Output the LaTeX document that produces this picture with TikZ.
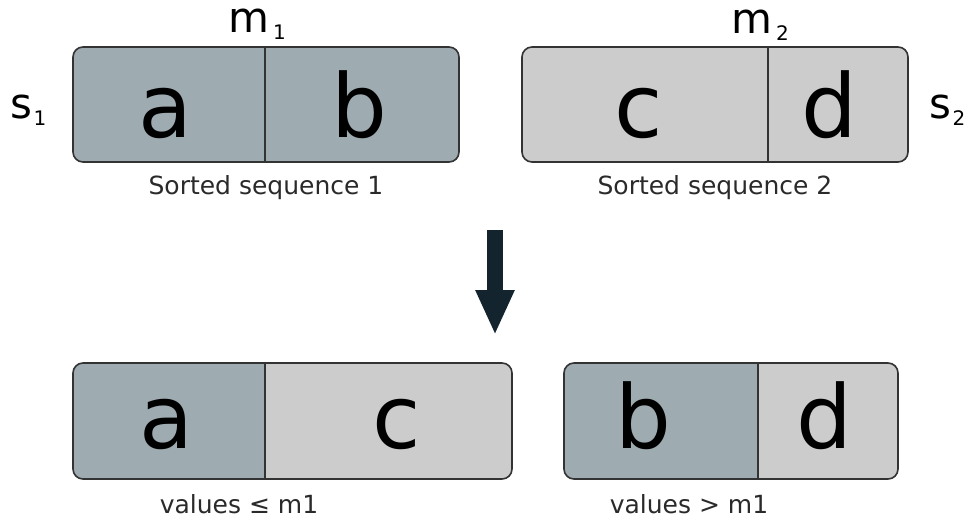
\documentclass[tikz,border=0pt]{standalone}
\usepackage{fontspec}
\setmainfont{DejaVu Sans}
\usetikzlibrary{arrows.meta}
\definecolor{cellDark}{HTML}{9EABB1}
\definecolor{cellLight}{HTML}{CCCCCC}
\definecolor{rimGray}{HTML}{333333}
\definecolor{arrowNavy}{HTML}{13242F}
\definecolor{captionInk}{HTML}{2A2A2A}
\tikzset{
  cell/.style={rectangle, inner sep=0pt, outer sep=0pt, minimum height=115pt},
  rim/.style={draw=rimGray, line width=1.6pt, rounded corners=10pt},
  divider/.style={draw=rimGray, line width=1.6pt},
  letter/.style={anchor=base, inner sep=0pt, font=\fontsize{88}{88}\selectfont},
  caption/.style={anchor=base, inner sep=0pt, text=captionInk, font=\fontsize{25}{25}\selectfont},
  seqname/.style={anchor=base west, inner sep=0pt},
  bigarrow/.style={draw=arrowNavy, fill=arrowNavy, line width=16pt, -{Triangle[length=45pt,width=36pt]}}
}
% symbol with a lowered subscript; #3 is the gap before the subscript
\newcommand{\symsub}[3]{{\fontsize{42}{42}\selectfont #1}\kern#3\raisebox{-7pt}{\fontsize{20}{20}\selectfont #2}}
\begin{document}
\begin{tikzpicture}[x=1pt, y=-1pt]
  \useasboundingbox (0,0) rectangle (972,519);
  \fill[white] (0,0) rectangle (972,519);

  % sorted sequence 1
  \begin{scope}
    \clip[rounded corners=10pt] (73,47) rectangle (459,162);
    \node[cell, fill=cellDark, minimum width=192pt] (a1) at (169,104.5) {};
    \node[cell, fill=cellDark, minimum width=194pt] (b1) at (362,104.5) {};
  \end{scope}
  \draw[rim] (a1.north west) rectangle (b1.south east);
  \draw[divider] (a1.north east) -- (a1.south east);
  \node[letter] (la1) at (165,137) {a};
  \node[letter] (lb1) at (359,137) {b};

  % sorted sequence 2
  \begin{scope}
    \clip[rounded corners=10pt] (522,47) rectangle (908,162);
    \node[cell, fill=cellLight, minimum width=246pt] (c1) at (645,104.5) {};
    \node[cell, fill=cellLight, minimum width=140pt] (d1) at (838,104.5) {};
  \end{scope}
  \draw[rim] (c1.north west) rectangle (d1.south east);
  \draw[divider] (c1.north east) -- (c1.south east);
  \node[letter] (lc1) at (639,137) {c};
  \node[letter] (ld1) at (829,137) {d};

  % medians and sequence names
  \node[seqname] (m1) at (228,33) {\symsub{m}{1}{4pt}};
  \node[seqname] (m2) at (731,34) {\symsub{m}{2}{4pt}};
  \node[seqname] (s1) at (10,118) {\symsub{s}{1}{1.5pt}};
  \node[seqname] (s2) at (929,118) {\symsub{s}{2}{1.5pt}};

  \node[caption] (cap1) at (266,194) {Sorted sequence 1};
  \node[caption] (cap2) at (715,194) {Sorted sequence 2};

  % merge step
  \coordinate (arrowTop) at (495,230);
  \coordinate (arrowTip) at (495,335);
  \draw[bigarrow] (arrowTop) -- (arrowTip);

  % lower part: values <= m1
  \begin{scope}
    \clip[rounded corners=10pt] (73,363) rectangle (512,479);
    \node[cell, fill=cellDark, minimum width=192pt, minimum height=116pt] (a2) at (169,421) {};
    \node[cell, fill=cellLight, minimum width=247pt, minimum height=116pt] (c2) at (388.5,421) {};
  \end{scope}
  \draw[rim] (a2.north west) rectangle (c2.south east);
  \draw[divider] (a2.north east) -- (a2.south east);
  \node[letter] (la2) at (166,448) {a};
  \node[letter] (lc2) at (397,448) {c};

  % lower part: values > m1
  \begin{scope}
    \clip[rounded corners=10pt] (564,363) rectangle (898,479);
    \node[cell, fill=cellDark, minimum width=194pt, minimum height=116pt] (b2) at (661,421) {};
    \node[cell, fill=cellLight, minimum width=140pt, minimum height=116pt] (d2) at (828,421) {};
  \end{scope}
  \draw[rim] (b2.north west) rectangle (d2.south east);
  \draw[divider] (b2.north east) -- (b2.south east);
  \node[letter] (lb2) at (643,448) {b};
  \node[letter] (ld2) at (824,448) {d};

  \node[caption] (cap3) at (239,513) {values ≤ m1};
  \node[caption] (cap4) at (689,513) {values > m1};
\end{tikzpicture}
\end{document}
